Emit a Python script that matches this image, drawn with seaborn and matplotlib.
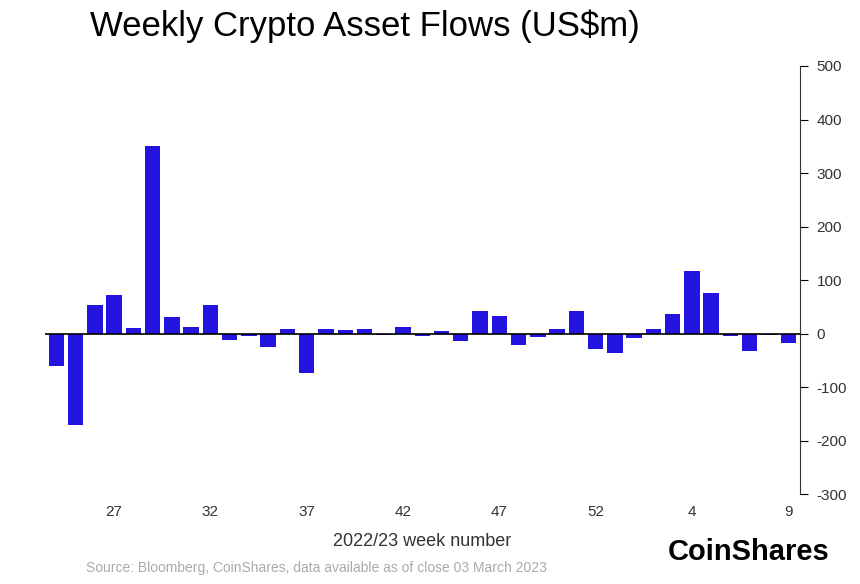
import matplotlib
matplotlib.use("Agg")
import matplotlib.pyplot as plt
import seaborn as sns
import pandas as pd

weeks = [str(w) for w in range(24, 54)] + [str(w) for w in range(1, 10)]
flows = [-60, -170, 54, 72, 11, 350, 30, 13, 54, -12, -5, -26, 9, -73, 8, 7, 9, -3, 12,
         -4, 5, -14, 42, 33, -22, -7, 9, 43, -28, -36, -9, 8, 36, 117, 75, -5, -32, -2, -17]
yticks = [-300, -200, -100, 0, 100, 200, 300, 400, 500]

df = pd.DataFrame({"week": weeks, "flow": flows})
plt.rcParams["font.family"] = "Liberation Sans"
fig = plt.figure(figsize=(8.6, 5.84), dpi=100)
ax = fig.add_axes([0.052, 0.154, 0.878, 0.733])
sns.barplot(data=df, x="week", y="flow", color="#2414e0", saturation=1, width=0.8, ax=ax)
ax.set_ylim(-300, 500)
ax.set_xlim(-0.6, len(weeks) - 0.4)
ax.axhline(0, color="black", lw=1.2)
ax.yaxis.tick_right()
ax.set_yticks(yticks)
ax.set_yticklabels([str(t) for t in yticks], fontsize=11, color="#333333")
ax.tick_params(axis="y", length=6, pad=6)
ax.tick_params(axis="x", length=0, labelsize=11, labelcolor="#333333", pad=8)
ax.set_xticks([i for i, w in enumerate(weeks) if w in ("27", "32", "37", "42", "47", "52", "4", "9")])
ax.set_xticklabels(["27", "32", "37", "42", "47", "52", "4", "9"])
for s in ["top", "left", "bottom"]:
    ax.spines[s].set_visible(False)
ax.spines["right"].set_color("#333333")
ax.set_ylabel("")
ax.set_xlabel("2022/23 week number", fontsize=13, color="#333333", labelpad=10)
fig.text(0.105, 0.955, "Weekly Crypto Asset Flows (US$m)", fontsize=25, va="center", ha="left")
fig.text(0.1, 0.015, "Source: Bloomberg, CoinShares, data available as of close 03 March 2023",
         fontsize=10, color="#aaaaaa", ha="left", va="bottom")
fig.text(0.965, 0.03, "CoinShares", fontsize=21, fontweight="bold", ha="right", va="bottom")
fig.savefig("out.png", dpi=100)
